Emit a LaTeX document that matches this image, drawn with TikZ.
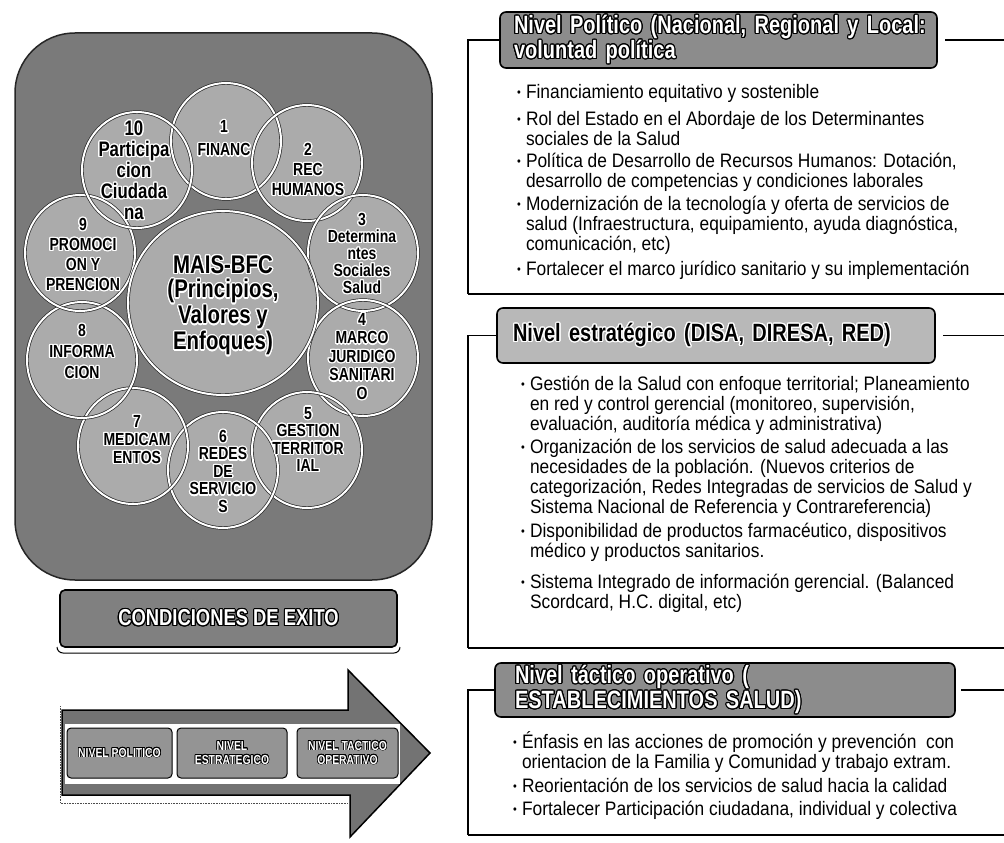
\documentclass[tikz,border=0pt]{standalone}
\usepackage{fontspec}
\setmainfont{Liberation Sans}
\newfontfamily\bodyf[FakeStretch=0.89]{Liberation Sans}
\newfontfamily\boldf[FakeStretch=0.8]{Liberation Sans}
\usepackage{contour}
\contournumber{20}
\usetikzlibrary{shapes.geometric}

\newcommand{\wo}[1]{{\contourlength{1.1pt}\color{white}\contour{black}{#1}}}
\newcommand{\wos}[1]{{\contourlength{0.6pt}\color{white}\contour{black}{#1}}}
\newcommand{\bw}[1]{{\contourlength{1.2pt}\contour{white}{#1}}}
\newcommand{\cf}[2]{\boldf\bfseries\fontsize{#1}{#2}\selectfont}
\newcommand{\bitem}[1]{\hbox{\makebox[9pt][l]{\raisebox{1.5pt}{\fontsize{12}{12}\selectfont\textbullet}}#1}}
\newcommand{\bcont}[1]{\hbox{\hspace*{9pt}#1}}

\begin{document}
\begin{tikzpicture}[x=1pt,y=-1pt,
  every node/.style={inner sep=0pt, outer sep=0pt},
  panel/.style={fill=black!52, draw=black!85, line width=1.5pt, rounded corners=60pt, anchor=north west},
  bub/.style={ellipse, fill=black!33},
  ringline/.style={draw=black!85, line width=0.7pt, double=white, double distance=2pt},
  ctext/.style={align=center, font=\cf{17.5}{18}},
  hdr/.style={draw=black, line width=1.6pt, rounded corners=6pt, align=left, anchor=north west},
  hdrdark/.style={hdr, fill=black!45, font=\cf{25}{25}},
  hdrlight/.style={hdr, fill=black!28, font=\cf{25}{25}},
  brk/.style={draw=black, line width=1.3pt},
  brkb/.style={draw=black, line width=2.4pt},
  itemtext/.style={anchor=base west, font=\bodyf\fontsize{19.5}{20}\selectfont},
  condbox/.style={draw=black, line width=1.6pt, fill=black!50, rounded corners=5pt, anchor=north west, font=\cf{23}{23}},
  arrowshape/.style={fill=black!55, draw=black, line width=1.5pt, line join=miter},
  abox/.style={draw=black, line width=1pt, fill=black!42, rounded corners=4pt, align=center, anchor=north west, font=\cf{13}{14}},
]
\useasboundingbox (0,0) rectangle (1004,843);

% ---------- left panel ----------
\node[panel, minimum width=417pt, minimum height=547pt] (sq) at (15,33) {};

\node[bub, minimum width=110pt, minimum height=116pt] (c1) at (226,141) {};
\node[bub, minimum width=110pt, minimum height=116pt] (c2) at (307,163) {};
\node[bub, minimum width=110pt, minimum height=116pt] (c3) at (363,253) {};
\node[bub, minimum width=110pt, minimum height=116pt] (c4) at (363,358) {};
\node[bub, minimum width=110pt, minimum height=116pt] (c5) at (307,450) {};
\node[bub, minimum width=110pt, minimum height=116pt] (c6) at (223,470) {};
\node[bub, minimum width=110pt, minimum height=116pt] (c7) at (133,446) {};
\node[bub, minimum width=110pt, minimum height=116pt] (c8) at (82,360) {};
\node[bub, minimum width=110pt, minimum height=116pt] (c9) at (80,253) {};
\node[bub, minimum width=110pt, minimum height=116pt] (c10) at (137,170) {};
\node[bub, minimum width=190pt, minimum height=184pt] (cc) at (223,303) {};

\foreach \n in {c1,c2,c3,c4,c5,c6,c7,c8,c9,c10}
  \draw[ringline] (\n.center) ellipse [x radius=55pt, y radius=58pt];
\draw[ringline] (cc.center) ellipse [x radius=95pt, y radius=92pt];

\node[ctext, font=\cf{17.5}{23}] (t1) at (224,139) {\bw{1}\\\bw{FINANC}};
\node[ctext, font=\cf{17.5}{20}] (t2) at (308,170) {\bw{2}\\\bw{REC}\\\bw{HUMANOS}};
\node[ctext, font=\cf{17.5}{17}] (t3) at (362,254) {\bw{3}\\\bw{Determina}\\\bw{ntes}\\\bw{Sociales}\\\bw{Salud}};
\node[ctext, font=\cf{17.5}{18.5}] (t4) at (362,357) {\bw{4}\\\bw{MARCO}\\\bw{JURIDICO}\\\bw{SANITARI}\\\bw{O}};
\node[ctext, font=\cf{17.5}{17.5}] (t5) at (308,440) {\bw{5}\\\bw{GESTION}\\\bw{TERRITOR}\\\bw{IAL}};
\node[ctext, font=\cf{17.5}{17.5}] (t6) at (223,472) {\bw{6}\\\bw{REDES}\\\bw{DE}\\\bw{SERVICIO}\\\bw{S}};
\node[ctext, font=\cf{17.5}{18}] (t7) at (137,440) {\bw{7}\\\bw{MEDICAM}\\\bw{ENTOS}};
\node[ctext, font=\cf{17.5}{21}] (t8) at (82,352) {\bw{8}\\\bw{INFORMA}\\\bw{CION}};
\node[ctext, font=\cf{17.5}{20}] (t9) at (83,255) {\bw{9}\\\bw{PROMOCI}\\\bw{ON Y}\\\bw{PRENCION}};
\node[ctext, font=\cf{21}{21}] (t10) at (134,171) {\bw{10}\\\bw{Participa}\\\bw{cion}\\\bw{Ciudada}\\\bw{na}};
\node[ctext, font=\cf{25.5}{24.5}] (tc) at (223,306) {\bw{MAIS-BFC}\\\bw{(Principios,}\\\bw{Valores y}\\\bw{Enfoques)}};

% ---------- condiciones ----------
\node[condbox, minimum width=337pt, minimum height=57pt] (ce) at (60,590) {\wo{CONDICIONES DE EXITO}};
\draw[line width=1pt] ([shift={(-3,0)}]ce.south west) to[out=-90,in=180] ([shift={(3,6)}]ce.south west) -- ([shift={(-3,6)}]ce.south east) to[out=0,in=-90] ([shift={(3,0)}]ce.south east);

% ---------- arrow ----------
\draw[arrowshape] (62,710) -- (348,710) -- (348,670) -- (430,753) -- (350,837) -- (350,795) -- (62,795) -- cycle;
\fill[white] (65,724) rectangle (400,784);
\draw[densely dotted, black!70, line width=0.6pt] (60,706) -- (60,803) -- (348,803);
\node[abox, minimum width=105pt, minimum height=50pt] (a1) at (67,728) {\wos{NIVEL POLITICO}};
\node[abox, minimum width=110pt, minimum height=50pt] (a2) at (177,728) {\wos{NIVEL}\\\wos{ESTRATEGICO}};
\node[abox, minimum width=101pt, minimum height=50pt] (a3) at (297,728) {\wos{NIVEL TACTICO}\\\wos{OPERATIVO}};

% ---------- right panel: box 1 ----------
\node[hdrdark, inner xsep=14pt, text width=409pt, minimum height=56pt] (h1) at (500,12)
  {\wo{Nivel Político (Nacional, Regional y Local:}\\\wo{voluntad política}};
\draw[brk] (h1.west) -- ++(-32,0) -- (468,294);
\draw[brk] ([xshift=8pt]h1.east) -- (1004,40);
\draw[brkb] (468,294) -- (1004,294);

\node[itemtext] (p1) at (517,98) {\vtop{\bitem{Financiamiento equitativo y sostenible}}};
\node[itemtext] (p2) at (517,125) {\vtop{\bitem{Rol del Estado en el Abordaje de los Determinantes}\bcont{sociales de la Salud}}};
\node[itemtext] (p3) at (517,167) {\vtop{\bitem{Política de Desarrollo de Recursos Humanos: Dotación,}\bcont{desarrollo de competencias y condiciones laborales}}};
\node[itemtext] (p4) at (517,210) {\vtop{\bitem{Modernización de la tecnología y oferta de servicios de}\bcont{salud (Infraestructura, equipamiento, ayuda diagnóstica,}\bcont{comunicación, etc)}}};
\node[itemtext] (p5) at (517,275) {\vtop{\bitem{Fortalecer el marco jurídico sanitario y su implementación}}};

% ---------- box 2 ----------
\node[hdrlight, inner xsep=16pt, text width=406pt, minimum height=55pt] (h2) at (497,308)
  {\bw{Nivel estratégico (DISA, DIRESA, RED)}};
\draw[brk] (h2.west) -- ++(-29,0) -- (468,648);
\draw[brk] ([xshift=8pt]h2.east) -- (1004,335.5);
\draw[brkb] (468,648) -- (1004,648);

\node[itemtext] (q1) at (521,390) {\vtop{\bitem{Gestión de la Salud con enfoque territorial; Planeamiento}\bcont{en red y control gerencial (monitoreo, supervisión,}\bcont{evaluación, auditoría médica y administrativa)}}};
\node[itemtext] (q2) at (521,453) {\vtop{\bitem{Organización de los servicios de salud adecuada a las}\bcont{necesidades de la población. (Nuevos criterios de}\bcont{categorización, Redes Integradas de servicios de Salud y}\bcont{Sistema Nacional de Referencia y Contrareferencia)}}};
\node[itemtext] (q3) at (521,537) {\vtop{\bitem{Disponibilidad de productos farmacéutico, dispositivos}\bcont{médico y productos sanitarios.}}};
\node[itemtext] (q4) at (521,588) {\vtop{\bitem{Sistema Integrado de información gerencial. (Balanced}\bcont{Scordcard, H.C. digital, etc)}}};

% ---------- box 3 ----------
\node[hdrdark, inner xsep=20pt, text width=420pt, minimum height=54pt] (h3) at (495,663)
  {\wo{Nivel táctico operativo (}\\\wo{ESTABLECIMIENTOS SALUD)}};
\draw[brk] (h3.west) -- ++(-27,0) -- (468,835);
\draw[brk] ([xshift=6pt]h3.east) -- (1004,690);
\draw[brkb] (468,835) -- (1004,835);

\node[itemtext] (r1) at (513,748) {\vtop{\bitem{Énfasis en las acciones de promoción y prevención\ \ con}\bcont{orientacion de la Familia y Comunidad y trabajo extram.}}};
\node[itemtext] (r2) at (513,792) {\vtop{\bitem{Reorientación de los servicios de salud hacia la calidad}}};
\node[itemtext] (r3) at (513,815) {\vtop{\bitem{Fortalecer Participación ciudadana, individual y colectiva}}};
\end{tikzpicture}
\end{document}
